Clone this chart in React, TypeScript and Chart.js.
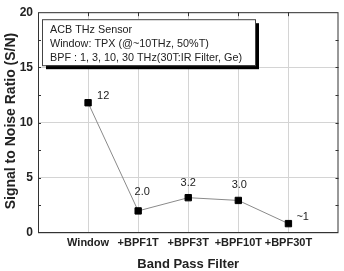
import React, { useEffect, useRef } from "react";
import { Chart, registerables } from "chart.js";

Chart.register(...registerables);

const categories = ["Window", "+BPF1T", "+BPF3T", "+BPF10T", "+BPF30T"];
const snrValues = [11.8, 2.0, 3.2, 2.95, 0.85];
const pointLabels = ["12", "2.0", "3.2", "3.0", "~1"];
const yTicks = [0, 5, 10, 15, 20];
const infoLines = [
  "ACB THz Sensor",
  "Window: TPX (@~10THz, 50%T)",
  "BPF : 1, 3, 10, 30 THz(30T:IR Filter, Ge)",
];
const xTitle = "Band Pass Filter";
const yTitle = "Signal to Noise Ratio (S/N)";

const labelOffsets = [
  [9, -7, "left"],
  [4, -19, "center"],
  [0, -15, "center"],
  [1, -15, "center"],
  [8, -7, "left"],
];

const FONT = "Arial, 'Liberation Sans', sans-serif";

const decorPlugin = {
  id: "decor",
  afterDraw(chart: any) {
    const { ctx, chartArea } = chart;
    const { left, right, top, bottom } = chartArea;
    const xs = chart.scales.x;
    const ys = chart.scales.y;
    ctx.save();
    // border
    ctx.strokeStyle = "#333";
    ctx.lineWidth = 1;
    ctx.strokeRect(left + 0.5, top + 0.5, right - left - 1, bottom - top - 1);
    // inner ticks on top
    ctx.beginPath();
    for (let i = 1; i <= categories.length; i++) {
      const x = Math.round(xs.getPixelForValue(i)) + 0.5;
      ctx.moveTo(x, top);
      ctx.lineTo(x, top + 4);
    }
    // minor ticks on y axis
    for (let v = 2.5; v < 20; v += 2.5) {
      const y = Math.round(ys.getPixelForValue(v)) + 0.5;
      ctx.moveTo(left, y);
      ctx.lineTo(left + 3, y);
      ctx.moveTo(right, y);
      ctx.lineTo(right - 3, y);
    }
    ctx.stroke();

    // point labels
    ctx.fillStyle = "#222";
    ctx.font = `11px ${FONT}`;
    ctx.textBaseline = "middle";
    const meta = chart.getDatasetMeta(0);
    meta.data.forEach((pt: any, i: number) => {
      const [dx, dy, align] = labelOffsets[i] as [number, number, CanvasTextAlign];
      ctx.textAlign = align;
      ctx.fillText(pointLabels[i], pt.x + dx, pt.y + dy);
    });

    // info box
    const bx = left + 4;
    const by = top + 7;
    const bw = 213;
    const bh = 46;
    ctx.fillStyle = "#000";
    ctx.fillRect(bx + 4, by + 4, bw, bh);
    ctx.fillStyle = "#fff";
    ctx.fillRect(bx, by, bw, bh);
    ctx.strokeStyle = "#444";
    ctx.lineWidth = 1;
    ctx.strokeRect(bx + 0.5, by + 0.5, bw, bh);
    ctx.fillStyle = "#222";
    ctx.font = `10.8px ${FONT}`;
    ctx.textAlign = "left";
    ctx.textBaseline = "alphabetic";
    infoLines.forEach((line, i) => {
      ctx.fillText(line, bx + 8, by + 14 + i * 14);
    });

    // axis titles
    ctx.font = `bold 13px ${FONT}`;
    ctx.fillStyle = "#222";
    ctx.textAlign = "center";
    ctx.textBaseline = "middle";
    ctx.fillText(xTitle, (left + right) / 2, 264);
    ctx.font = `bold 14px ${FONT}`;
    ctx.translate(11, 121);
    ctx.rotate(-Math.PI / 2);
    ctx.fillText(yTitle, 0, 0);
    ctx.restore();
  },
};

export default function App() {
  const ref = useRef<HTMLCanvasElement>(null);
  useEffect(() => {
    document.body.style.margin = "0";
    const chart = new Chart(ref.current!, {
      type: "line",
      data: {
        datasets: [
          {
            data: snrValues.map((v, i) => ({ x: i + 1, y: v })),
            borderColor: "#8a8a8a",
            borderWidth: 1,
            pointStyle: "rect",
            pointRadius: 4.5,
            pointBackgroundColor: "#000",
            pointBorderColor: "#000",
            tension: 0,
          },
        ],
      },
      options: {
        animation: false,
        responsive: false,
        devicePixelRatio: 1,
        layout: { padding: { top: 10, right: 3, left: 0, bottom: 0 } },
        plugins: { legend: { display: false }, tooltip: { enabled: false } },
        scales: {
          x: {
            type: "linear",
            min: 0,
            max: categories.length + 1,
            afterBuildTicks: (s: any) => {
              s.ticks = categories.map((_, i) => ({ value: i + 1 }));
            },
            afterFit: (s: any) => {
              s.height = 38;
            },
            ticks: {
              autoSkip: false,
              maxRotation: 0,
              padding: 3,
              color: "#222",
              font: { family: FONT, size: 11, weight: "bold" },
              callback: (v: any) => categories[Number(v) - 1] ?? "",
            },
            grid: { color: "#d4d4d4", tickLength: 4, drawTicks: false },
            border: { display: false },
          },
          y: {
            min: 0,
            max: 20,
            afterBuildTicks: (s: any) => {
              s.ticks = yTicks.map((v) => ({ value: v }));
            },
            afterFit: (s: any) => {
              s.width = 38;
            },
            ticks: {
              padding: 5,
              color: "#222",
              font: { family: FONT, size: 12, weight: "bold" },
            },
            grid: { color: "#d4d4d4", drawTicks: false },
            border: { display: false },
          },
        },
      },
      plugins: [decorPlugin],
    } as any);
    return () => chart.destroy();
  }, []);
  return <canvas ref={ref} width={344} height={271} style={{ display: "block" }} />;
}
